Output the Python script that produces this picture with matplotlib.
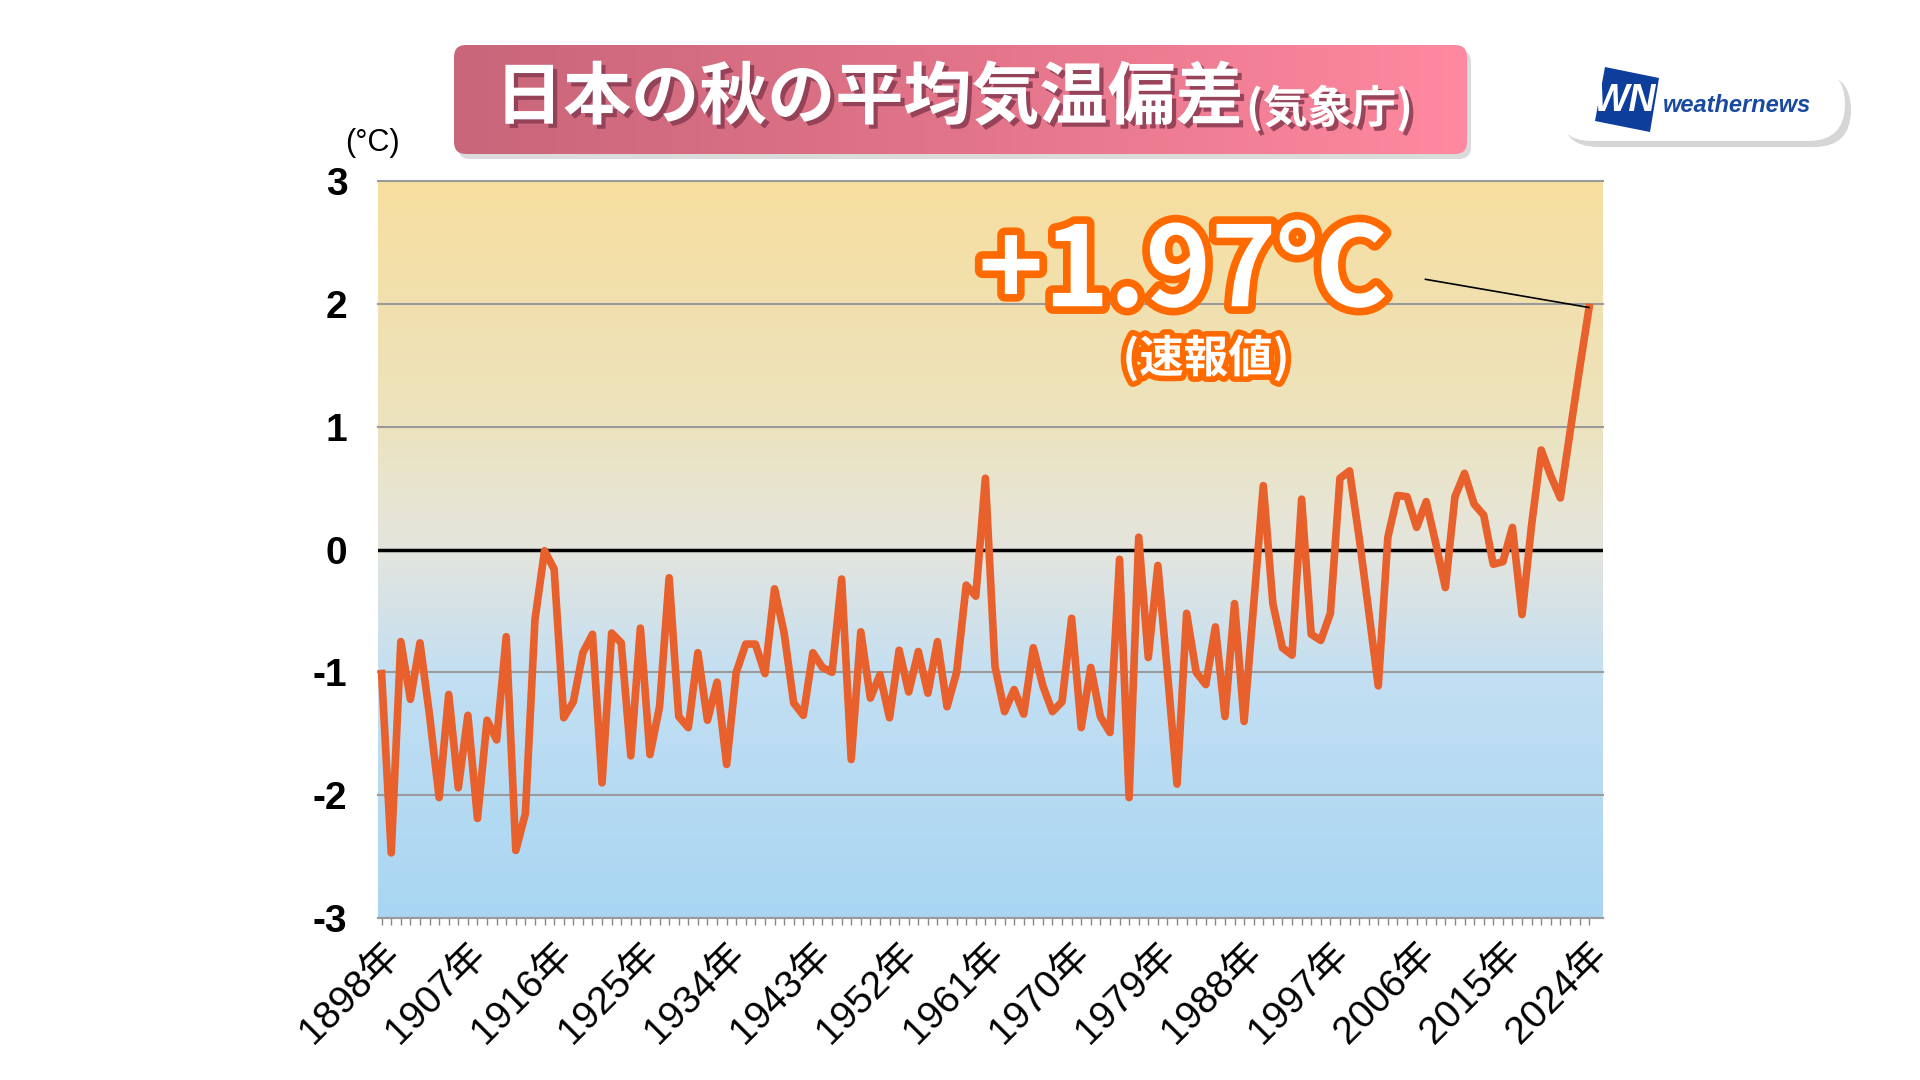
import numpy as np
import matplotlib.pyplot as plt
from matplotlib.colors import LinearSegmentedColormap
from matplotlib.patches import FancyBboxPatch, Polygon
import matplotlib.patheffects as pe

JP = ['Noto Sans CJK JP', 'DejaVu Sans']
LAT = ['Liberation Sans', 'Noto Sans CJK JP']

# 秋の平均気温偏差 (1898-2024)
years = list(range(1898, 2025))
anomaly = [
    -1.01, -2.47, -0.75, -1.22, -0.76, -1.35, -2.02, -1.18, -1.94, -1.35,
    -2.19, -1.39, -1.55, -0.71, -2.45, -2.15, -0.57, -0.01, -0.16, -1.37,
    -1.24, -0.84, -0.69, -1.90, -0.68, -0.76, -1.68, -0.64, -1.67, -1.28,
    -0.23, -1.36, -1.45, -0.84, -1.39, -1.08, -1.75, -1.00, -0.77, -0.77,
    -1.01, -0.32, -0.68, -1.25, -1.35, -0.84, -0.96, -1.00, -0.24, -1.71,
    -0.67, -1.21, -1.02, -1.37, -0.82, -1.16, -0.83, -1.17, -0.75, -1.28,
    -1.00, -0.29, -0.38, 0.58, -0.95, -1.32, -1.14, -1.34, -0.80, -1.11,
    -1.32, -1.24, -0.56, -1.45, -0.96, -1.36, -1.49, -0.08, -2.02, 0.10,
    -0.88, -0.13, -1.00, -1.91, -0.52, -1.00, -1.10, -0.63, -1.36, -0.44,
    -1.40, -0.45, 0.52, -0.44, -0.80, -0.86, 0.41, -0.69, -0.74, -0.52,
    0.58, 0.64, 0.10, -0.50, -1.11, 0.10, 0.44, 0.43, 0.18, 0.39,
    0.05, -0.31, 0.43, 0.62, 0.37, 0.28, -0.12, -0.10, 0.18, -0.53,
    0.20, 0.81, 0.60, 0.42, 0.95, 1.47, 1.97,
]
tick_years = [1898, 1907, 1916, 1925, 1934, 1943, 1952, 1961, 1970,
              1979, 1988, 1997, 2006, 2015, 2024]
y_ticks = [-3, -2, -1, 0, 1, 2, 3]

title_main = '日本の秋の平均気温偏差'
title_sub = '(気象庁)'
latest_label = '+1.97℃'
latest_note = '(速報値)'
unit_label = '(°C)'

W, H = 1920, 1080
fig = plt.figure(figsize=(19.2, 10.8), dpi=100)


def fx(px):
    return px / W


def fy(py):
    return 1 - py / H


# decoration layer in pixel coords (y down)
deco = fig.add_axes([0, 0, 1, 1])
deco.set_xlim(0, W)
deco.set_ylim(H, 0)
deco.axis('off')

# title box
deco.add_patch(FancyBboxPatch((458, 50), 1013, 109, boxstyle='round,pad=0,rounding_size=12',
                              fc='#b0b0b0', ec='none', alpha=0.45, zorder=1))
title_cmap = LinearSegmentedColormap.from_list('title', ['#C9667A', '#E27489', '#FF89A0'])
box = FancyBboxPatch((454, 45), 1013, 109, boxstyle='round,pad=0,rounding_size=12',
                     fc='none', ec='none', zorder=1)
deco.add_patch(box)
im = deco.imshow(np.linspace(0, 1, 256).reshape(1, -1), cmap=title_cmap,
                 extent=[454, 1467, 154, 45], aspect='auto', zorder=2)
im.set_clip_path(box)
deco.set_xlim(0, W)
deco.set_ylim(H, 0)

shadow = [pe.SimplePatchShadow(offset=(3, -3), shadow_rgbFace='#8E3E55', alpha=0.9), pe.Normal()]
deco.text(1243, 99, title_main, fontsize=49, weight='bold', family=JP, color='white',
          ha='right', va='center', path_effects=shadow, zorder=3)
deco.text(1246, 109, title_sub, fontsize=32, weight='bold', family=JP, color='white',
          ha='left', va='center', path_effects=shadow, zorder=3)

# weathernews logo
deco.add_patch(FancyBboxPatch((1561, 73), 290, 74, boxstyle='round,pad=0,rounding_size=37',
                              fc='#d6d6d6', ec='none'))
deco.add_patch(FancyBboxPatch((1555, 67), 290, 74, boxstyle='round,pad=0,rounding_size=37',
                              fc='white', ec='none'))
deco.add_patch(Polygon([(1605, 67), (1659, 78), (1650, 132), (1595, 121)], closed=True,
                       fc='#0E3E9C', ec='none'))
deco.text(1624, 101, 'WN', fontsize=27, weight='bold', style='italic', family=LAT,
          color='white', ha='center', va='center')
deco.text(1663, 106, 'weathernews', fontsize=17, weight='bold', style='italic', family=LAT,
          color='#1A4AA0', ha='left', va='center')

# main chart
ax = fig.add_axes([fx(378), fy(918), fx(1603) - fx(378), fy(181) - fy(918)])
x0, x1 = 1897.62, 2025.45
bg_cmap = LinearSegmentedColormap.from_list(
    'bg', [(0, '#A8D6F3'), (0.33, '#C3DFF2'), (0.5, '#E4E5DE'), (0.67, '#ECE3BE'), (1, '#F7DE9F')])
ax.imshow(np.linspace(0, 1, 256).reshape(-1, 1), cmap=bg_cmap, origin='lower',
          extent=[x0, x1, -3, 3], aspect='auto', zorder=0)
ax.set_xlim(x0, x1)
ax.set_ylim(-3, 3)

for v in y_ticks:
    if v == 0:
        ax.axhline(v, color='black', lw=2.5, zorder=1)
    else:
        ax.axhline(v, color='#9A9A9A', lw=1.5, zorder=1, clip_on=False)

ax.plot(years, anomaly, color='#E8602C', lw=5.5, solid_joinstyle='round', zorder=3, clip_on=False)

ax.annotate('', xy=(years[-1], anomaly[-1]), xytext=(2006.9, 2.2),
            arrowprops=dict(arrowstyle='-', color='black', lw=1.2, shrinkA=0, shrinkB=0), zorder=4)

for s in ['top', 'left', 'right']:
    ax.spines[s].set_visible(False)
ax.spines['bottom'].set_color('#9A9A9A')
ax.spines['bottom'].set_linewidth(1.5)

ax.set_yticks(y_ticks)
ax.set_yticklabels([str(v) for v in y_ticks], fontsize=28, weight='bold', family=LAT)
ax.tick_params(axis='y', length=0, pad=22)

ax.set_xticks(tick_years)
ax.set_xticklabels([f'{y}年' for y in tick_years], rotation=45, ha='right', va='top',
                   rotation_mode='anchor', fontsize=28, family=LAT)
ax.set_xticks(years, minor=True)
ax.tick_params(axis='x', which='both', length=5, color='#888888', width=1, pad=8)

stroke_big = [pe.Stroke(linewidth=11, foreground='#FF6A00'), pe.Normal()]
stroke_small = [pe.Stroke(linewidth=8, foreground='#FF6A00'), pe.Normal()]
fig.text(fx(1183), fy(274), latest_label, fontsize=80, weight='bold', family=JP,
         color='white', ha='center', va='center', path_effects=stroke_big)
fig.text(fx(1206), fy(359), latest_note, fontsize=32, weight='bold', family=JP,
         color='white', ha='center', va='center', path_effects=stroke_small)

fig.text(fx(372), fy(143), unit_label, fontsize=22, family=LAT, ha='center', va='center')

fig.savefig('out.png', dpi=100, facecolor='white')
